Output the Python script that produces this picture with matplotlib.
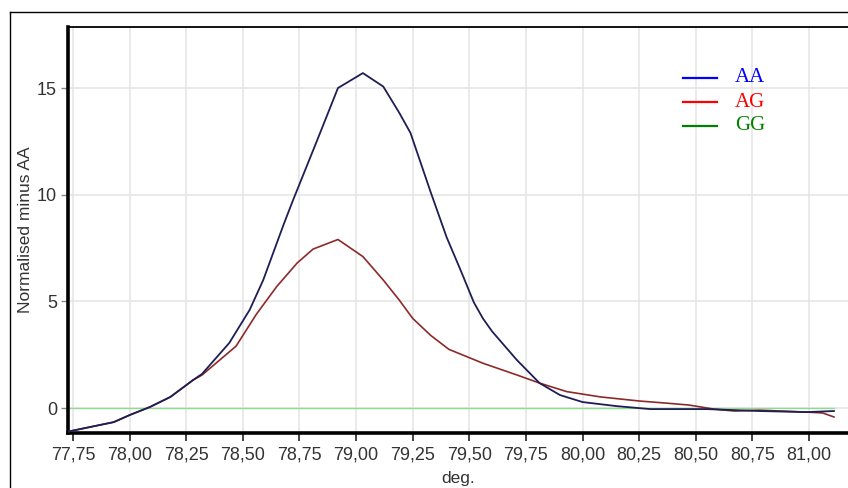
import matplotlib
matplotlib.use("Agg")
import matplotlib.pyplot as plt
from matplotlib.lines import Line2D

# melt curves
aa_x = [77.73, 77.93, 78.00, 78.09, 78.18, 78.28, 78.32, 78.44, 78.53, 78.59, 78.68,
        78.72, 78.83, 78.92, 79.03, 79.12, 79.19, 79.24, 79.33, 79.40, 79.46, 79.52,
        79.56, 79.60, 79.71, 79.81, 79.90, 80.00, 80.15, 80.30, 80.55, 80.78, 80.99, 81.11]
aa_y = [-1.1, -0.66, -0.33, 0.05, 0.52, 1.31, 1.6, 3.05, 4.6, 6.0, 8.6,
        9.7, 12.6, 15.0, 15.7, 15.07, 13.85, 12.9, 10.1, 8.0, 6.5, 4.95,
        4.2, 3.6, 2.25, 1.17, 0.61, 0.28, 0.09, -0.05, -0.05, -0.14, -0.19, -0.14]

ag_x = [77.73, 77.93, 78.00, 78.09, 78.18, 78.28, 78.32, 78.47, 78.56, 78.65, 78.74,
        78.81, 78.92, 79.03, 79.12, 79.19, 79.25, 79.33, 79.41, 79.56, 79.71, 79.81,
        79.93, 80.08, 80.25, 80.37, 80.47, 80.58, 80.67, 80.78, 80.99, 81.06, 81.11]
ag_y = [-1.1, -0.66, -0.33, 0.05, 0.52, 1.31, 1.55, 2.9, 4.4, 5.7, 6.8,
        7.45, 7.9, 7.1, 6.0, 5.07, 4.2, 3.4, 2.75, 2.1, 1.55, 1.17,
        0.77, 0.52, 0.33, 0.23, 0.14, -0.05, -0.14, -0.1, -0.19, -0.23, -0.42]

gg_x = [77.73, 81.11]
gg_y = [0.0, 0.0]

x_ticks = [77.75, 78.00, 78.25, 78.50, 78.75, 79.00, 79.25, 79.50, 79.75,
           80.00, 80.25, 80.50, 80.75, 81.00]
x_labels = ["77,75", "78,00", "78,25", "78,50", "78,75", "79,00", "79,25", "79,50",
            "79,75", "80,00", "80,25", "80,50", "80,75", "81,00"]
y_ticks = [0, 5, 10, 15]

plt.rcParams["font.family"] = ["Liberation Sans", "DejaVu Sans"]

fig = plt.figure(figsize=(8.48, 4.88), dpi=100)
ax = fig.add_axes([68 / 848, 55 / 488, 1 - 68 / 848, 406 / 488])

ax.plot(gg_x, gg_y, color="#8fdc8f", lw=1.0, zorder=2)
ax.plot(ag_x, ag_y, color="#8c2a2a", lw=1.2, zorder=3)
ax.plot(aa_x, aa_y, color="#1e1e55", lw=1.3, zorder=4)

ax.set_xlim(77.728, 81.172)
ax.set_ylim(-1.17, 17.86)
ax.set_xticks(x_ticks)
ax.set_xticklabels(x_labels)
ax.set_yticks(y_ticks)
ax.tick_params(axis="both", labelsize=13, labelcolor="#333333", direction="out")
ax.tick_params(axis="x", length=6, width=1.2, color="#222222", pad=4)
ax.tick_params(axis="y", length=5, width=1, color="#888888", pad=3)
ax.grid(color="#e4e4e4", lw=1.1)
ax.set_axisbelow(True)

ax.spines["right"].set_visible(False)
ax.spines["left"].set_linewidth(2.6)
ax.spines["bottom"].set_linewidth(2.6)
ax.spines["top"].set_linewidth(1.3)

ax.set_xlabel("deg.", fontsize=12.5, color="#333333", labelpad=5)
ax.set_ylabel("Normalised minus AA", fontsize=12.5, color="#333333", labelpad=3)

# legend drawn as free text like the source software
legend_items = [("AA", "#0000ff"), ("AG", "#ff0000"), ("GG", "#008000")]
for i, (name, col) in enumerate(legend_items):
    yy = 1 - (78 + 24 * i) / 488
    fig.add_artist(Line2D([683 / 848, 717 / 848], [yy, yy], color=col, lw=1.6))
    fig.text(735 / 848, yy, name, color=col, fontsize=15,
             family=["Liberation Serif", "DejaVu Serif"], va="center", ha="left")

# outer frame of the exported panel
fig.add_artist(Line2D([10 / 848, 10 / 848], [0, 1 - 12 / 488], color="black", lw=1))
fig.add_artist(Line2D([10 / 848, 1], [1 - 12 / 488, 1 - 12 / 488], color="black", lw=1))

fig.savefig("out.png", dpi=100)
